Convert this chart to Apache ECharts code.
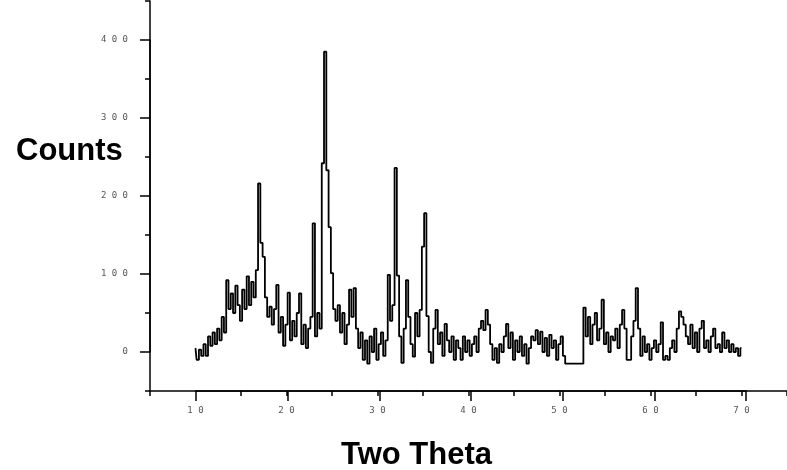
<!DOCTYPE html>
<html>
<head>
<meta charset="utf-8">
<script src="https://cdn.jsdelivr.net/npm/echarts@6/dist/echarts.min.js"></script>
<style>
html,body{margin:0;padding:0;background:#fff;}
#chart{width:787px;height:470px;}
</style>
</head>
<body>
<div id="chart"></div>
<script>
// Two Theta start and step (degrees)
var thetaStart = 10;
var thetaStep = 0.25;
// Counts, one value per 0.25 degree from 10 to 70
var counts = [
  5, -10, 3, -5,
  10, -5, 20, 8,
  25, 10, 30, 15,
  45, 25, 92, 55,
  75, 50, 85, 60,
  40, 80, 55, 97,
  60, 90, 70, 105,
  216, 140, 122, 70,
  45, 58, 35, 55,
  86, 25, 45, 8,
  35, 76, 15, 40,
  20, 50, 75, 10,
  35, 5, 30, 45,
  165, 20, 50, 30,
  242, 385, 233, 160,
  101, 55, 40, 60,
  25, 50, 10, 35,
  80, 45, 82, 30,
  5, 25, -10, 15,
  -15, 20, 0, 30,
  -10, 10, 25, -5,
  15, 99, 40, 60,
  236, 98, 20, -14,
  30, 92, 45, 10,
  -6, 50, 20, 54,
  135, 178, 46, 0,
  -14, 30, 54, 10,
  25, -5, 36, 15,
  0, 20, -10, 15,
  5, -10, 20, 0,
  15, -5, 10, 20,
  0, 30, 40, 28,
  54, 35, 10, -10,
  5, -14, 10, 0,
  20, 36, 5, 25,
  -10, 15, 0, 20,
  -5, 10, -15, 5,
  20, 15, 28, 10,
  26, 0, 18, -5,
  22, 5, 15, -10,
  10, 20, -5, -15,
  -15, -15, -15, -15,
  -15, -15, -15, 57,
  20, 45, 10, 35,
  50, 15, 30, 67,
  10, 25, 0, 20,
  15, 30, 5, 35,
  54, 30, -10, -10,
  20, 40, 82, 30,
  -5, 20, 0, 10,
  -10, 5, 15, 0,
  10, 38, -10, -5,
  -10, 5, 15, 0,
  30, 52, 45, 35,
  20, 10, 35, 5,
  25, 0, 30, 40,
  5, 15, 0, 20,
  30, 5, 10, 0,
  25, 5, 15, 0,
  10, 0, 5, -5,
  5
];
// Tick labels
var xTickLabels = [10, 20, 30, 40, 50, 60, 70];
var yTickLabels = [0, 100, 200, 300, 400];
var xTitle = 'Two Theta';
var yTitle = 'Counts';

var xMin = 5, xMax = 75, yMin = -50, yMax = 450;

var seriesData = counts.map(function (c, i) {
  return [thetaStart + i * thetaStep, c];
});

function spaced(v) { return String(v).split('').join(' '); }

var axisLineStyle = { color: '#000', width: 1.5 };
var tickLine = { color: '#000', width: 1.5 };
var labelStyle = { color: '#555', fontSize: 9, fontFamily: 'DejaVu Sans Mono' };

// main plot box
var G = { left: 150, top: 1, width: 642, height: 390 };
var pxX = G.width / (xMax - xMin);
var pxY = G.height / (yMax - yMin);
var xMajMin = xTickLabels[0], xMajMax = xTickLabels[xTickLabels.length - 1];
var yMajMin = yTickLabels[0], yMajMax = yTickLabels[yTickLabels.length - 1];
// grid sharing the bottom edge, spanning the labelled x ticks (long major ticks)
var GX = { left: G.left + (xMajMin - xMin) * pxX, width: (xMajMax - xMajMin) * pxX, top: G.top, height: G.height };
// grid sharing the left edge, spanning the labelled y ticks (long major ticks)
var GY = { left: G.left, width: G.width, top: G.top + (yMax - yMajMax) * pxY, height: (yMajMax - yMajMin) * pxY };

var chart = echarts.init(document.getElementById('chart'), null, { renderer: 'canvas' });
chart.setOption({
  animation: false,
  backgroundColor: '#fff',
  grid: [G, GX, GY],
  xAxis: [{
    gridIndex: 0, type: 'value', min: xMin, max: xMax, interval: 5, position: 'bottom',
    axisLine: { onZero: false, lineStyle: axisLineStyle },
    axisTick: { show: true, length: 5, lineStyle: tickLine },
    axisLabel: Object.assign({ margin: 15, customValues: xTickLabels, formatter: spaced }, labelStyle),
    splitLine: { show: false }
  }, {
    gridIndex: 1, type: 'value', min: xMajMin, max: xMajMax, interval: 10, position: 'bottom',
    axisLine: { show: true, onZero: false, lineStyle: axisLineStyle },
    axisTick: { show: true, length: 10, lineStyle: tickLine },
    axisLabel: { show: false },
    splitLine: { show: false }
  }, {
    gridIndex: 2, type: 'value', min: 0, max: 1, show: false
  }],
  yAxis: [{
    gridIndex: 0, type: 'value', min: yMin, max: yMax, interval: 50, position: 'left',
    axisLine: { show: true, onZero: false, lineStyle: axisLineStyle },
    axisTick: { show: true, length: 5, lineStyle: tickLine },
    axisLabel: Object.assign({ margin: 22, customValues: yTickLabels, formatter: spaced }, labelStyle),
    splitLine: { show: false }
  }, {
    gridIndex: 1, type: 'value', min: 0, max: 1, show: false
  }, {
    gridIndex: 2, type: 'value', min: yMajMin, max: yMajMax, interval: 100, position: 'left',
    axisLine: { show: true, onZero: false, lineStyle: axisLineStyle },
    axisTick: { show: true, length: 10, lineStyle: tickLine },
    axisLabel: { show: false },
    splitLine: { show: false }
  }],
  graphic: [{
    type: 'text', left: 16, top: 136,
    style: { text: yTitle, font: 'bold 31px "Liberation Sans", Arial, sans-serif', fill: '#000' }
  }, {
    type: 'text', left: 341, top: 440,
    style: { text: xTitle, font: 'bold 31px "Liberation Sans", Arial, sans-serif', fill: '#000' }
  }],
  series: [{
    type: 'line', step: 'middle', data: seriesData, showSymbol: false,
    lineStyle: { color: '#000', width: 1.8 }, xAxisIndex: 0, yAxisIndex: 0
  }]
});
</script>
</body>
</html>
